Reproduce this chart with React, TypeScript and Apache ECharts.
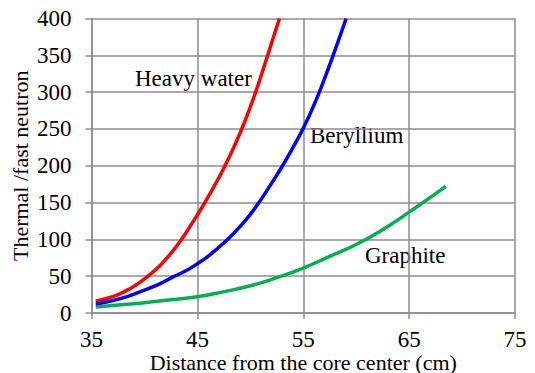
import React, { useEffect, useRef } from "react";
import * as echarts from "echarts";

const heavyWater: [number, number][] = [
  [35.4, 16], [36.5, 20], [37.5, 25], [38.5, 32], [39.5, 41], [40.5, 52], [41.5, 65],
  [42.5, 81], [43.5, 100], [44.5, 122], [45.5, 145], [46.5, 170], [47.5, 197],
  [48.5, 227], [49.5, 261], [50.5, 300], [51.5, 344], [52.75, 400],
];
const beryllium: [number, number][] = [
  [35.4, 12], [37, 17], [38.5, 23], [40, 31], [41.5, 40], [42.7, 49], [44, 58],
  [45, 67], [46, 77], [47, 89], [48, 102], [49, 117], [50, 134], [51, 154], [52, 176],
  [53, 199], [54, 224], [55, 251], [56, 282], [57, 318], [58, 357], [59.05, 400],
];
const graphite: [number, number][] = [
  [35.4, 8], [37.5, 11], [40, 14], [42.5, 18], [45, 22], [47.5, 29], [50, 37],
  [52.5, 48], [55, 61], [57.5, 77], [60, 93], [62.5, 113], [65, 137], [66.5, 152],
  [68.47, 172],
];
const seriesNames = ["Heavy water", "Beryllium", "Graphite"];
const xTitle = "Distance from the core center (cm)";
const yTitle = "Thermal /fast neutron";

const FONT = "Liberation Serif";
const GRID = "#8c8c8c";

export default function App() {
  const ref = useRef<HTMLDivElement>(null);
  useEffect(() => {
    document.body.style.margin = "0";
    if (!ref.current) return;
    const chart = echarts.init(ref.current, undefined, { renderer: "svg" });
    const label = (text: string, x: number, y: number) => ({
      type: "text",
      x,
      y,
      style: {
        text,
        fill: "#000",
        fontFamily: FONT,
        fontSize: 23,
        verticalAlign: "middle",
      },
    });
    chart.setOption({
      animation: false,
      backgroundColor: "#fff",
      textStyle: { fontFamily: FONT },
      grid: {
        left: 91.5,
        right: 20,
        top: 18.5,
        bottom: 60,
        containLabel: false,
        outerBoundsMode: "none",
      },
      xAxis: {
        type: "value",
        min: 35,
        max: 75,
        interval: 10,
        name: xTitle,
        nameLocation: "middle",
        nameGap: 38,
        nameMoveOverlap: false,
        nameTextStyle: { fontFamily: FONT, fontSize: 22, color: "#000" },
        axisLine: { show: true, lineStyle: { color: GRID, width: 1.5 } },
        axisTick: { show: true, length: 6, lineStyle: { color: GRID, width: 1.5 } },
        axisLabel: { fontFamily: FONT, fontSize: 23, color: "#000", margin: 15 },
        splitLine: { show: true, lineStyle: { color: GRID, width: 1.5 } },
      },
      yAxis: {
        type: "value",
        min: 0,
        max: 400,
        interval: 50,
        name: yTitle,
        nameLocation: "middle",
        nameGap: 60,
        nameMoveOverlap: false,
        nameTextStyle: { fontFamily: FONT, fontSize: 22, color: "#000" },
        axisLine: { show: true, lineStyle: { color: GRID, width: 1.5 } },
        axisTick: { show: true, length: 6, lineStyle: { color: GRID, width: 1.5 } },
        axisLabel: { fontFamily: FONT, fontSize: 23, color: "#000", margin: 20 },
        splitLine: { show: true, lineStyle: { color: GRID, width: 1.5 } },
      },
      series: [
        { name: seriesNames[0], type: "line", data: heavyWater, color: "#ff0000" },
        { name: seriesNames[1], type: "line", data: beryllium, color: "#0000ff" },
        { name: seriesNames[2], type: "line", data: graphite, color: "#00b050" },
      ].map((s) => ({
        ...s,
        smooth: true,
        showSymbol: false,
        symbol: "none",
        clip: true,
        lineStyle: { width: 3.5, color: s.color },
      })),
      graphic: [
        label(seriesNames[0], 135, 78),
        label(seriesNames[1], 310, 135),
        label(seriesNames[2], 365, 255),
      ],
    });
    return () => chart.dispose();
  }, []);
  return <div ref={ref} style={{ width: 535, height: 373 }} />;
}
